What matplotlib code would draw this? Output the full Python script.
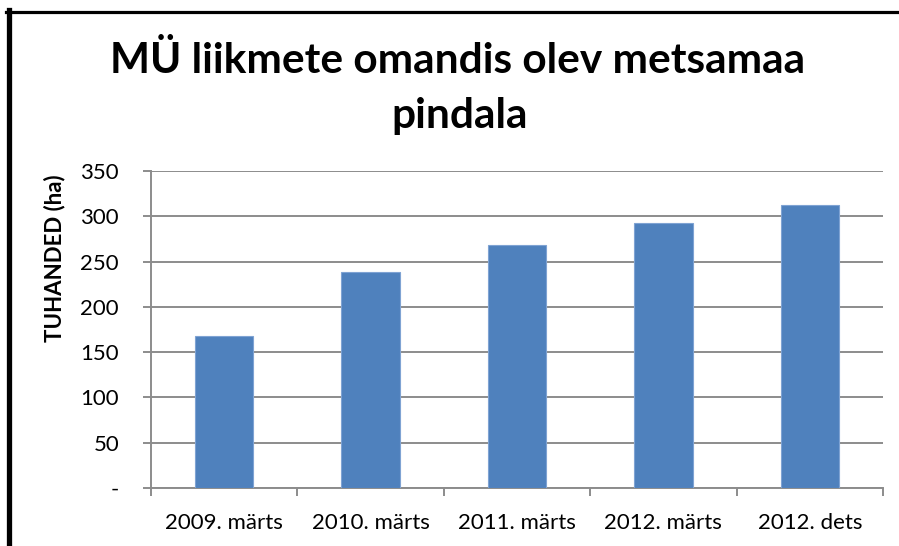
import matplotlib.pyplot as plt
from matplotlib.lines import Line2D
from matplotlib.transforms import ScaledTranslation
import numpy as np

# Data
periods = ["2009. märts", "2010. märts", "2011. märts", "2012. märts", "2012. dets"]
area_thousand_ha = [168, 239, 268, 293, 312]
yticks = [0, 50, 100, 150, 200, 250, 300, 350]
ytick_labels = ["-", "50", "100", "150", "200", "250", "300", "350"]

plt.rcParams['font.family'] = ['Lato', 'DejaVu Sans']

fig = plt.figure(figsize=(8.99, 5.46), dpi=100)
ax = fig.add_axes([151 / 899, 1 - 488 / 546, (883 - 151) / 899, (488 - 171) / 546])

x = np.arange(len(periods))
ax.bar(x, area_thousand_ha, width=0.4, color='#4F81BD', edgecolor='#7FA3D3',
       linewidth=0.8, zorder=3)

ax.set_xlim(-0.5, len(periods) - 0.5)
ax.set_ylim(0, 350)
ax.set_yticks(yticks)
ax.set_yticklabels(ytick_labels, fontsize=16)
ax.yaxis.grid(True, color='#8C8C8C', linewidth=1.4, zorder=0)

# Excel-style "-" for zero sits a bit left of the number column
zero_lbl = ax.get_yticklabels()[0]
zero_lbl.set_transform(zero_lbl.get_transform() + ScaledTranslation(-0.12, 0, fig.dpi_scale_trans))

# category labels centred, ticks on category boundaries
ax.set_xticks(x)
ax.set_xticklabels(periods, fontsize=16)
ax.set_xticks(np.arange(len(periods) + 1) - 0.5, minor=True)
ax.tick_params(axis='x', which='major', length=0, pad=18)
ax.tick_params(axis='x', which='minor', length=6, width=1.4, color='#8C8C8C')
ax.tick_params(axis='y', length=6, width=1.4, color='#8C8C8C', pad=17)

for side in ['top', 'right']:
    ax.spines[side].set_visible(False)
for side in ['left', 'bottom']:
    ax.spines[side].set_color('#8C8C8C')
    ax.spines[side].set_linewidth(1.4)

ax.set_ylabel("TUHANDED (ha)", fontsize=16, fontweight='bold')
ax.yaxis.set_label_coords((65 - 151) / 732, 0.726)

fig.text(457.5 / 899, 1 - 73 / 546, "MÜ liikmete omandis olev metsamaa", ha='center',
         va='baseline', fontsize=30.5, fontweight='bold')
fig.text(460 / 899, 1 - 128 / 546, "pindala", ha='center',
         va='baseline', fontsize=30.5, fontweight='bold')

# outer frame (left and top edge visible)
fig.add_artist(Line2D([8.5 / 899, 8.5 / 899], [0, 1 - 10 / 546], color='black',
                      linewidth=3.8, transform=fig.transFigure))
fig.add_artist(Line2D([6 / 899, 1], [1 - 11.5 / 546, 1 - 11.5 / 546], color='black',
                      linewidth=2.3, transform=fig.transFigure))

fig.savefig("out.png", dpi=100)
